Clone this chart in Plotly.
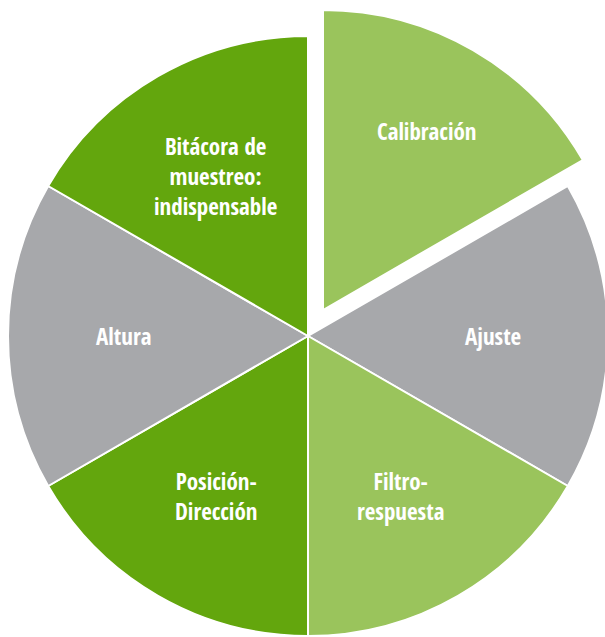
import math
import plotly.graph_objects as go

# ---- data ----
labels = ["Calibración", "Ajuste", "Filtro-<br>respuesta", "Posición-<br>Dirección",
          "Altura", "Bitácora de<br>muestreo:<br>indispensable"]
values = [1, 1, 1, 1, 1, 1]
colors = ["#9AC45C", "#A7A8AB", "#9AC45C", "#63A60D", "#A7A8AB", "#63A60D"]
pulled = [True, False, False, False, False, False]

# ---- layout geometry (pixels in figure) ----
W, H = 625, 640
CX, CY, R = 308, 336, 300
PULL_DX, PULL_DY = 15, -26
LABEL_FRAC = 0.615        # label distance from centre, fraction of radius
LABEL_FRAC_PULLED = 0.69
TRANSPARENT = "rgba(0,0,0,0)"


def dom(cx, cy, r):
    return dict(x=[(cx - r) / W, (cx + r) / W], y=[1 - (cy + r) / H, 1 - (cy - r) / H])


font = dict(family="Open Sans Condensed, Roboto Condensed, sans-serif", size=23,
            color="white", weight="bold")


def trace(show_mask, domain):
    return go.Pie(
        labels=labels, values=values, sort=False, direction="clockwise", rotation=0,
        domain=domain,
        marker=dict(colors=[c if m else TRANSPARENT for c, m in zip(colors, show_mask)],
                    line=dict(color="white", width=[2 if m else 0 for m in show_mask])),
        textinfo="none", hoverinfo="skip", showlegend=False,
    )


fig = go.Figure()
fig.add_trace(trace([not p for p in pulled], dom(CX, CY, R)))
fig.add_trace(trace(pulled, dom(CX + PULL_DX, CY + PULL_DY, R)))

# labels placed at each slice's mid-angle (derived from the values)
total = sum(values)
cum = 0.0
for lab, v, p in zip(labels, values, pulled):
    mid = 2 * math.pi * (cum + v / 2) / total
    cum += v
    cx = CX + (PULL_DX if p else 0)
    cy = CY + (PULL_DY if p else 0)
    f = LABEL_FRAC_PULLED if p else LABEL_FRAC
    px = cx + f * R * math.sin(mid)
    py = cy - f * R * math.cos(mid)
    fig.add_annotation(x=px / W, y=1 - py / H, xref="paper", yref="paper", text=lab,
                       showarrow=False, xanchor="center", yanchor="middle",
                       align="center", font=font)

fig.update_layout(width=W, height=H, margin=dict(l=0, r=0, t=0, b=0),
                  paper_bgcolor="white", plot_bgcolor="white", showlegend=False)
fig.write_html(
    "out.html",
    config={"displayModeBar": False},
    post_script="document.documentElement.style.overflow='hidden';"
                "document.body.style.overflow='hidden';document.body.style.margin='0';",
)
